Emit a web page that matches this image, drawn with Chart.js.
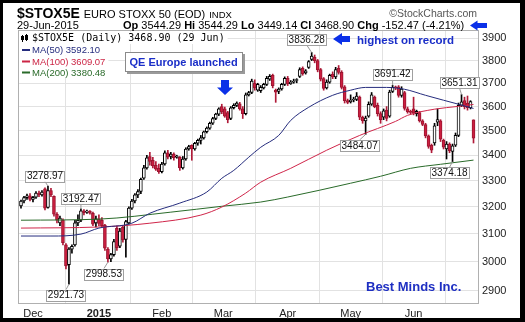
<!DOCTYPE html>
<html>
<head>
<meta charset="utf-8">
<script src="https://cdn.jsdelivr.net/npm/chart.js@4.4.0/dist/chart.umd.min.js"></script>
<style>
  html, body { margin: 0; padding: 0; background: #fff; }
  canvas { display: block; }
</style>
</head>
<body>
<canvas id="chart" width="525" height="322"></canvas>
<script>
// Daily OHLC, 24 Nov 2014 .. 29 Jun 2015
const opens = [3203,3222,3235,3242,3228,3236,3252,3245,3268,3198,3262,3240,3172,3140,3150,3060,2990,3045,3060,3140,
  3150,3185,3180,3184,3176,3140,3155,3150,3132,3045,3010,3025,3120,3055,3125,3080,3140,3195,3222,3245,
  3258,3310,3350,3395,3380,3360,3348,3335,3365,3410,3395,3405,3392,3392,3350,3385,3425,3440,3425,3448,
  3460,3470,3495,3510,3530,3550,3568,3600,3590,3575,3550,3595,3605,3612,3590,3570,3650,3660,3700,3670,
  3668,3680,3695,3718,3735,3670,3665,3675,3695,3722,3698,3705,3712,3730,3765,3745,3770,3805,3815,3800,
  3760,3720,3680,3705,3740,3728,3765,3748,3685,3625,3620,3628,3630,3640,3555,3540,3560,3610,3640,3605,
  3570,3555,3585,3560,3665,3682,3685,3648,3660,3590,3580,3590,3570,3575,3540,3525,3478,3440,3450,3535,
  3540,3460,3425,3445,3415,3440,3480,3605,3625,3615,3595,3544.29];
const highs = [3225,3240,3248,3250,3240,3258,3260,3262,3272,3278.97,3270,3242,3178,3165,3155,3065,3050,3060,3150,3170,
  3192.47,3190,3188,3186,3180,3165,3170,3160,3135,3050,3030,3080,3128,3120,3130,3150,3200,3228,3250,3265,
  3310,3360,3400,3412,3392,3375,3365,3372,3418,3420,3412,3410,3400,3395,3395,3430,3440,3442,3452,3465,
  3480,3498,3515,3535,3555,3572,3595,3610,3598,3580,3600,3612,3620,3618,3600,3658,3665,3718,3715,3700,
  3690,3700,3730,3738,3740,3675,3680,3700,3728,3730,3712,3718,3720,3768,3772,3760,3800,3836.28,3825,3805,
  3765,3725,3715,3740,3750,3770,3778,3755,3690,3632,3650,3640,3660,3645,3560,3560,3620,3660,3645,3615,
  3578,3590,3600,3670,3691.42,3688,3690,3685,3665,3598,3585,3640,3585,3580,3545,3530,3482,3445,3530,3590,
  3545,3465,3455,3450,3445,3490,3615,3651.31,3640,3645,3625,3544.29];
const lows = [3195,3215,3228,3222,3218,3232,3238,3240,3188,3195,3238,3165,3140,3130,3060,2975,2921.73,3030,3055,3130,
  3145,3170,3175,3172,3130,3125,3130,3125,3040,2998.53,3000,3020,3040,3050,3070,3016,3135,3190,3215,3235,
  3250,3305,3345,3360,3350,3340,3328,3330,3360,3385,3385,3380,3388,3340,3345,3380,3420,3380,3420,3440,
  3445,3465,3490,3505,3525,3545,3562,3570,3555,3532,3545,3590,3600,3585,3550,3565,3645,3655,3670,3665,
  3660,3675,3690,3712,3680,3618,3655,3670,3690,3690,3695,3700,3702,3725,3735,3740,3765,3800,3790,3750,
  3710,3670,3675,3700,3720,3720,3740,3675,3615,3612,3615,3620,3625,3545,3530,3484.07,3555,3605,3595,3560,
  3530,3545,3540,3555,3660,3672,3640,3640,3585,3572,3568,3565,3560,3535,3520,3470,3428,3410,3440,3520,
  3455,3425,3385,3410,3374.18,3435,3475,3600,3590,3585,3590,3449.14];
const closes = [3222,3235,3242,3228,3236,3252,3245,3256,3195,3262,3245,3172,3150,3158,3068,2985,3045,3055,3140,3150,
  3185,3178,3184,3176,3135,3155,3138,3130,3048,3010,3025,3072,3050,3110,3078,3145,3195,3222,3245,3258,
  3305,3350,3390,3375,3358,3345,3335,3365,3410,3392,3405,3390,3396,3350,3385,3425,3435,3425,3448,3460,
  3470,3495,3510,3530,3550,3568,3590,3578,3560,3545,3595,3605,3615,3590,3570,3650,3660,3710,3680,3695,
  3682,3695,3722,3730,3690,3662,3675,3695,3722,3698,3705,3710,3716,3760,3742,3755,3795,3820,3800,3758,
  3718,3678,3705,3735,3728,3760,3748,3682,3625,3618,3628,3632,3645,3555,3540,3552,3610,3650,3600,3570,
  3545,3582,3550,3662,3682,3680,3648,3675,3592,3578,3575,3572,3580,3540,3525,3478,3435,3420,3520,3545,
  3465,3432,3445,3418,3438,3480,3605,3620,3600,3595,3621.37,3468.90];

// Moving averages, sampled along the curves (trading-day index, value)
const ma50Days = [0,10,20,26,37,43,53,62,67,71,76,80,86,90,96,104,110,115,122,128,135,141,146,151];
const ma50Values = [3092,3092,3099,3121,3139,3176,3214,3256,3309,3340,3392,3432,3480,3542,3597,3648,3670,3682,3682,3674,3648,3627,3610,3592.10];
const ma100Days = [0,26,43,60,67,75,80,90,102,113,125,129,138,146,151];
const ma100Values = [3121,3125,3139,3169,3199,3252,3294,3348,3420,3480,3538,3563,3589,3601,3609.07];
const ma200Days = [0,26,50,67,80,89,110,120,130,140,151];
const ma200Values = [3150,3154,3180,3202,3218,3237,3290,3317,3348,3364,3380.48];

const monthTicks = [4, 26, 47, 67.5, 89, 110, 131];
const monthLabels = ['Dec', '2015', 'Feb', 'Mar', 'Apr', 'May', 'Jun'];
const priceTicks = [2900, 3000, 3100, 3200, 3300, 3400, 3500, 3600, 3700, 3800, 3900];

const SANS = '"Liberation Sans", Arial, sans-serif';
const BLUE_TEXT = '#1a2ec8';
const BLUE_ARROW = '#0b30e8';
const RED = '#cc1f40';

const up = closes.map((c, i) => c >= opens[i]);

function toXY(days, values) {
  return days.map((d, i) => ({ x: d, y: values[i] }));
}

function arrowLeft(ctx, x, y, w, h) {
  // x,y = tip; w total length; h head height
  const hw = h * 0.75;
  ctx.beginPath();
  ctx.moveTo(x, y);
  ctx.lineTo(x + hw, y - h / 2);
  ctx.lineTo(x + hw, y - h / 4);
  ctx.lineTo(x + w, y - h / 4);
  ctx.lineTo(x + w, y + h / 4);
  ctx.lineTo(x + hw, y + h / 4);
  ctx.lineTo(x + hw, y + h / 2);
  ctx.closePath();
  ctx.fill();
}

function arrowDown(ctx, x, y, w, h) {
  // x = centre, y = tip
  const hh = h * 0.5;
  ctx.beginPath();
  ctx.moveTo(x, y);
  ctx.lineTo(x - w / 2, y - hh);
  ctx.lineTo(x - w / 4, y - hh);
  ctx.lineTo(x - w / 4, y - h);
  ctx.lineTo(x + w / 4, y - h);
  ctx.lineTo(x + w / 4, y - hh);
  ctx.lineTo(x + w / 2, y - hh);
  ctx.closePath();
  ctx.fill();
}

const overlay = {
  id: 'overlay',
  beforeDraw(chart) {
    const ctx = chart.ctx;
    ctx.save();
    ctx.fillStyle = '#000';
    ctx.fillRect(0, 0, chart.width, chart.height);
    ctx.fillStyle = '#fff';
    ctx.fillRect(3, 3, chart.width - 8, chart.height - 7);
    ctx.restore();
  },
  beforeDatasetsDraw(chart) {
    const { ctx, chartArea: a } = chart;
    ctx.save();
    ctx.strokeStyle = '#b0b0b0';
    ctx.lineWidth = 1;
    ctx.strokeRect(a.left + 0.5, a.top + 0.5, a.right - a.left, a.bottom - a.top);
    ctx.restore();
  },
  afterDraw(chart) {
    const ctx = chart.ctx;
    const xs = chart.scales.x, ys = chart.scales.y;
    ctx.save();
    ctx.textBaseline = 'alphabetic';

    // title line
    ctx.fillStyle = '#000';
    ctx.font = 'bold 14px ' + SANS;
    ctx.fillText('$STOX5E', 17, 18);
    let x = 17 + ctx.measureText('$STOX5E').width + 4;
    ctx.font = '11px ' + SANS;
    ctx.fillText('EURO STOXX 50 (EOD)', x, 18);
    x += ctx.measureText('EURO STOXX 50 (EOD)').width + 4;
    ctx.font = '9.5px ' + SANS;
    ctx.fillText('INDX', x, 18);

    ctx.fillStyle = '#555';
    ctx.font = '10.5px ' + SANS;
    ctx.textAlign = 'right';
    ctx.fillText('\u00A9StockCharts.com', 477, 17);
    ctx.textAlign = 'left';

    // date + quote line
    ctx.fillStyle = '#000';
    ctx.font = '11px ' + SANS;
    ctx.fillText('29-Jun-2015', 17, 29);
    const parts = [['Op', true], [' 3544.29 ', false], ['Hi', true], [' 3544.29 ', false], ['Lo', true],
      [' 3449.14 ', false], ['Cl', true], [' 3468.90 ', false], ['Chg', true], [' -152.47 (-4.21%)', false]];
    x = 123;
    parts.forEach(([t, b]) => {
      ctx.font = (b ? 'bold ' : '') + '11px ' + SANS;
      ctx.fillText(t, x, 29);
      x += ctx.measureText(t).width;
    });
    ctx.fillStyle = BLUE_ARROW;
    arrowLeft(ctx, 470, 25.5, 17, 10);

    // legend
    const legendRows = [
      { text: 'MA(50) 3592.10', color: '#262d7e', y: 53 },
      { text: 'MA(100) 3609.07', color: '#cc2545', y: 64.5 },
      { text: 'MA(200) 3380.48', color: '#2a6b2a', y: 75.5 }
    ];
    ctx.font = '10px "DejaVu Sans Mono", monospace';
    const head = '$STOX5E (Daily) 3468.90 (29 Jun)';
    ctx.fillStyle = '#fff';
    ctx.fillRect(19, 32, ctx.measureText(head).width + 16, 12);
    ctx.fillStyle = '#000';
    ctx.fillText(head, 32, 41);
    // tiny candle icon
    ctx.fillRect(22, 35, 1, 7); ctx.fillRect(21, 36, 3, 4);
    ctx.fillRect(26, 34, 1, 7); ctx.strokeStyle = '#000'; ctx.lineWidth = 1;
    ctx.strokeRect(25.5, 35.5, 2, 4);
    ctx.font = '9.5px ' + SANS;
    legendRows.forEach(r => {
      const w = ctx.measureText(r.text).width;
      ctx.fillStyle = '#fff';
      ctx.fillRect(19, r.y - 9, w + 16, 11.5);
      ctx.fillStyle = r.color;
      ctx.fillRect(22, r.y - 4, 8, 2);
      ctx.fillText(r.text, 32, r.y);
    });

    // QE Europe launched
    ctx.fillStyle = '#9a9a9a';
    ctx.fillRect(127, 54, 118, 20);
    ctx.fillStyle = '#fff';
    ctx.fillRect(125, 52, 118, 20);
    ctx.strokeStyle = '#8a8a8a';
    ctx.strokeRect(125.5, 52.5, 117, 19);
    ctx.fillStyle = BLUE_TEXT;
    ctx.font = 'bold 11px ' + SANS;
    ctx.fillText('QE Europe launched', 129.5, 66);
    ctx.fillStyle = BLUE_ARROW;
    arrowDown(ctx, 225, 95, 16, 15);

    // highest on record
    arrowLeft(ctx, 333, 39, 17, 12);
    ctx.fillStyle = BLUE_TEXT;
    ctx.font = 'bold 11.5px ' + SANS;
    ctx.fillText('highest on record', 357, 44);

    // price notes at swing highs / lows
    const notes = [
      { i: 9, v: highs[9], dx: -3, dy: -10 },
      { i: 20, v: highs[20], dx: 0, dy: -10 },
      { i: 16, v: lows[16], dx: -3, dy: 11 },
      { i: 29, v: lows[29], dx: -4, dy: 12 },
      { i: 97, v: highs[97], dx: -5, dy: -13 },
      { i: 115, v: lows[115], dx: -6, dy: 11 },
      { i: 124, v: highs[124], dx: 0, dy: -11 },
      { i: 144, v: lows[144], dx: -3, dy: 11 },
      { i: 147, v: highs[147], dx: -2, dy: -12 }
    ];
    ctx.font = '10px ' + SANS;
    ctx.textAlign = 'center';
    ctx.textBaseline = 'middle';
    notes.forEach(n => {
      const px = xs.getPixelForValue(n.i), py = ys.getPixelForValue(n.v);
      const cx = px + n.dx, cy = py + n.dy;
      const t = n.v.toFixed(2);
      const w = ctx.measureText(t).width + 3, h = 11;
      ctx.strokeStyle = '#999';
      ctx.beginPath();
      ctx.moveTo(px, py);
      ctx.lineTo(cx, cy + (n.dy < 0 ? h / 2 : -h / 2));
      ctx.stroke();
      ctx.fillStyle = '#fff';
      ctx.fillRect(cx - w / 2, cy - h / 2, w, h);
      ctx.strokeStyle = '#a0a0a0';
      ctx.strokeRect(Math.round(cx - w / 2) + 0.5, Math.round(cy - h / 2) + 0.5, Math.round(w), h);
      ctx.fillStyle = '#111';
      ctx.fillText(t, cx, cy + 0.5);
    });

    // signature
    ctx.textAlign = 'left';
    ctx.textBaseline = 'alphabetic';
    ctx.fillStyle = '#1e2fc2';
    ctx.font = 'bold 13px ' + SANS;
    ctx.fillText('Best Minds Inc.', 366, 291);
    ctx.restore();
  }
};

new Chart(document.getElementById('chart'), {
  type: 'bar',
  data: {
    datasets: [
      { type: 'line', data: toXY(ma50Days, ma50Values), borderColor: '#262d7e', borderWidth: 1,
        pointRadius: 0, cubicInterpolationMode: 'monotone' },
      { type: 'line', data: toXY(ma100Days, ma100Values), borderColor: '#d0264a', borderWidth: 1,
        pointRadius: 0, cubicInterpolationMode: 'monotone' },
      { type: 'line', data: toXY(ma200Days, ma200Values), borderColor: '#2a6b2a', borderWidth: 1,
        pointRadius: 0, cubicInterpolationMode: 'monotone' },
      { // candle bodies
        data: opens.map((o, i) => ({ x: i, y: [o, closes[i]] })),
        backgroundColor: up.map(u => u ? '#ffffff' : RED),
        borderColor: up.map(u => u ? '#000000' : '#9a1530'),
        borderWidth: 1, borderSkipped: false, barThickness: 3, minBarLength: 1, grouped: false },
      { // wicks
        data: lows.map((l, i) => ({ x: i, y: [l, highs[i]] })),
        backgroundColor: up.map(u => u ? '#000000' : '#b01a38'),
        barThickness: 1, grouped: false }
    ]
  },
  options: {
    responsive: false,
    animation: false,
    devicePixelRatio: 1,
    layout: { padding: { left: 18, top: 30, right: 0, bottom: 0 } },
    plugins: { legend: { display: false }, tooltip: { enabled: false } },
    scales: {
      x: {
        type: 'linear', min: -1, max: 152.5, offset: false,
        afterBuildTicks: s => { s.ticks = monthTicks.map(v => ({ value: v })); },
        afterFit: s => { s.height = 19; },
        ticks: {
          autoSkip: false, maxRotation: 0, padding: 4, color: '#222',
          callback: (v, i) => monthLabels[i],
          font: c => ({ family: SANS, size: 11, weight: monthLabels[c.index] === '2015' ? 'bold' : 'normal' })
        },
        grid: { color: '#e2e2e2', drawTicks: false },
        border: { display: true, color: '#b0b0b0' }
      },
      y: {
        type: 'logarithmic', position: 'right', min: 2858, max: 3939,
        afterBuildTicks: s => { s.ticks = priceTicks.map(v => ({ value: v })); },
        afterFit: s => { s.width = 47; },
        ticks: { autoSkip: false, padding: 4, color: '#222', font: { family: SANS, size: 11 },
          callback: v => String(v) },
        grid: { color: '#e2e2e2', drawTicks: false },
        border: { display: true, color: '#b0b0b0' }
      }
    }
  },
  plugins: [overlay]
});
</script>
</body>
</html>
